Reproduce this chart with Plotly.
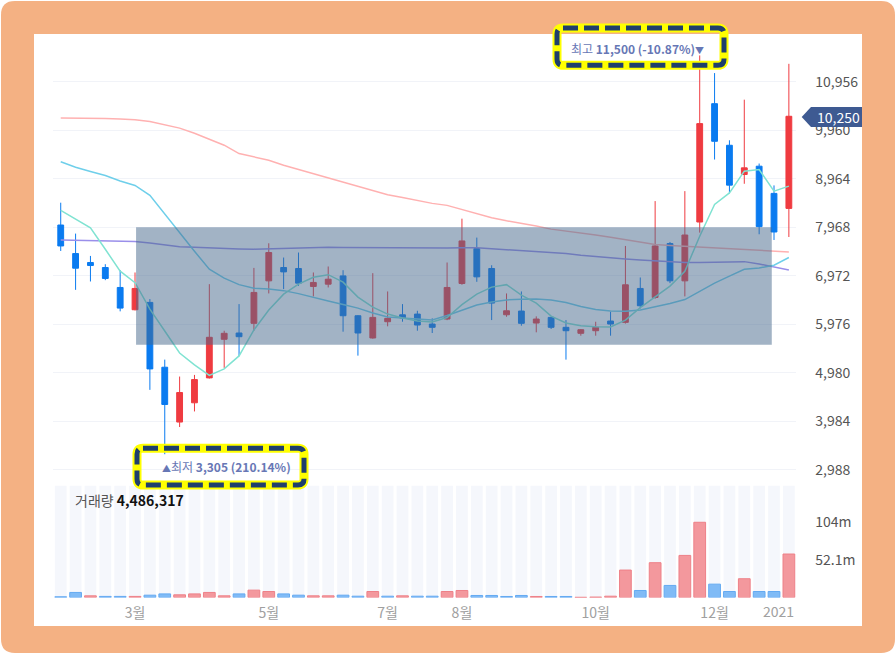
import plotly.graph_objects as go

W, H = 896, 663

# ---------------- data ----------------
WEEKS = [
    "2020-01-27", "2020-02-03", "2020-02-10", "2020-02-17", "2020-02-24",
    "2020-03-02", "2020-03-09", "2020-03-16", "2020-03-23", "2020-03-30",
    "2020-04-06", "2020-04-13", "2020-04-20", "2020-04-27", "2020-05-04",
    "2020-05-11", "2020-05-18", "2020-05-25", "2020-06-01", "2020-06-08",
    "2020-06-15", "2020-06-22", "2020-06-29", "2020-07-06", "2020-07-13",
    "2020-07-20", "2020-07-27", "2020-08-03", "2020-08-10", "2020-08-17",
    "2020-08-24", "2020-08-31", "2020-09-07", "2020-09-14", "2020-09-21",
    "2020-09-28", "2020-10-05", "2020-10-12", "2020-10-19", "2020-10-26",
    "2020-11-02", "2020-11-09", "2020-11-16", "2020-11-23", "2020-11-30",
    "2020-12-07", "2020-12-14", "2020-12-21", "2020-12-28", "2021-01-04",
]

OPEN = [8015, 7429, 7245, 7142, 6732, 6274, 6425, 5093, 3966, 4362,
        4874, 5667, 5796, 5995, 6868, 7142, 7122, 6753, 6800, 6970,
        6151, 5694, 6028, 6170, 6185, 5980, 6083, 6814, 7532, 7122,
        6171, 6247, 6001, 6117, 5913, 5790, 5843, 6042, 6015, 6712,
        6527, 7634, 6868, 8077, 10509, 9654, 9054, 9224, 8665, 8357]
HIGH = [8474, 7839, 7380, 7210, 7087, 7040, 6493, 5249, 4901, 4935,
        6800, 5843, 6390, 7134, 7640, 7347, 7450, 7040, 7163, 7087,
        6165, 7026, 6650, 6390, 6253, 6097, 7245, 8146, 7757, 7189,
        6609, 6650, 6138, 6130, 6062, 5878, 6028, 6233, 7585, 6937,
        8507, 7667, 8712, 11500, 11138, 9757, 10591, 9279, 8829, 11328]
LOW = [7482, 6683, 6855, 6882, 6241, 6260, 4628, 3305, 3864, 4184,
       4860, 5079, 5318, 5843, 6609, 6698, 6766, 6548, 6732, 5823,
       5331, 5680, 5933, 6028, 5843, 5796, 6060, 6787, 6848, 6062,
       6130, 5946, 5810, 5878, 5249, 5741, 5741, 5741, 5990, 6302,
       6500, 6821, 6548, 7859, 9361, 8665, 8863, 7825, 7708, 7769]
CLOSE = [7585, 7128, 7183, 6917, 6308, 6712, 5058, 4327, 4573, 4839,
         5708, 5790, 5720, 6630, 7450, 7052, 6821, 6835, 6902, 6151,
         5796, 6117, 6097, 6105, 5960, 5913, 6732, 7688, 6950, 6411,
         6253, 5995, 6083, 5913, 5843, 5864, 5913, 5980, 6787, 6356,
         7585, 6868, 7810, 10099, 9736, 8835, 9190, 7982, 7872, 10250]
PREV_CLOSE = 7900

MA5 = [8316, 8132, 7958, 7517, 7066, 6831, 6288, 5837, 5386, 5140,
       4925, 5058, 5325, 5858, 6267, 6595, 6800, 6943, 6995, 6841,
       6534, 6329, 6185, 6103, 6042, 6021, 6114, 6380, 6595, 6739,
       6790, 6575, 6411, 6144, 6001, 5946, 5923, 5919, 6062, 6319,
       6534, 6759, 7066, 7784, 8439, 8675, 9122, 9156, 8712, 8814]
MA20 = [9316, 9202, 9115, 9033, 8921, 8829, 8624, 8234, 7845, 7476,
        7107, 6923, 6790, 6718, 6698, 6667, 6605, 6523, 6452, 6380,
        6308, 6206, 6124, 6103, 6083, 6062, 6155, 6267, 6370, 6431,
        6476, 6489, 6493, 6472, 6421, 6339, 6278, 6247, 6243, 6267,
        6329, 6401, 6483, 6657, 6821, 6964, 7107, 7134, 7189, 7347]
MA60 = [7706, 7700, 7695, 7691, 7685, 7675, 7644, 7601, 7570, 7556,
        7542, 7534, 7525, 7519, 7527, 7538, 7546, 7552, 7556, 7554,
        7552, 7548, 7542, 7538, 7534, 7534, 7542, 7548, 7546, 7527,
        7507, 7491, 7466, 7450, 7429, 7394, 7364, 7333, 7317, 7296,
        7278, 7265, 7247, 7245, 7251, 7259, 7263, 7214, 7148, 7091]
MA120 = [10216, 10216, 10216, 10203, 10193, 10179, 10142, 10078, 10007, 9902,
         9785, 9656, 9484, 9412, 9347, 9243, 9156, 9072, 8984, 8892,
         8800, 8718, 8638, 8579, 8519, 8460, 8419, 8337, 8249, 8163,
         8101, 8054, 7993, 7931, 7894, 7857, 7812, 7763, 7714, 7665,
         7613, 7595, 7577, 7558, 7540, 7521, 7503, 7484, 7470, 7462]

VOLUME = [1.0, 7.0, 2.3, 1.5, 1.5, 1.5, 3.2, 5.0, 3.7, 5.0,
          7.0, 2.3, 5.0, 10.2, 8.3, 5.0, 3.2, 2.3, 2.3, 3.2,
          1.8, 8.3, 1.8, 2.3, 1.8, 1.8, 8.3, 9.7, 2.8, 2.8,
          1.4, 2.8, 1.4, 1.4, 1.4, 0.3, 0.6, 1.8, 38.0, 9.7,
          48.2, 16.7, 58.3, 104.2, 18.5, 8.3, 26.0, 8.3, 8.3, 60.2]  # millions

PRICE_TICKS = [2988, 3984, 4980, 5976, 6972, 7968, 8964, 9960, 10956]
VOL_TICKS = [52.1, 104.2]
VOL_TICK_TEXT = ["52.1m", "104m"]
MONTH_TICKS = ["2020-03-02", "2020-05-04", "2020-06-29", "2020-08-03", "2020-10-05", "2020-11-30"]
MONTH_TEXT = ["3월", "5월", "7월", "8월", "10월", "12월"]
YEAR_TICK = ("2021-01-04", "2021")

HIGH_LABEL = "최고 <b>11,500 (-10.87%)</b><span style='font-size:9px'>▼</span>"
LOW_LABEL = "<span style='font-size:9px'>▲</span>최저 <b>3,305 (210.14%)</b>"
LAST_PRICE = "10,250"
VOL_LABEL = "<span style='color:#555555'>거래량</span> <b>4,486,317</b>"

# range box (highlighted trading range)
BOX_X = (5.07, 47.85)
BOX_Y = (5556, 7968)

# ---------------- styling ----------------
FONT = "Noto Sans CJK KR"
RED, BLUE = "#EF3B40", "#0A7BF0"
VRED, VBLUE = "#F3989D", "#80BBF6"
VRED_L, VBLUE_L = "#EE8088", "#64AAF2"
ORANGE = "#F4B183"
NAVY = "#1F3F6C"


def px(x):
    return x / W


def py(y):
    return 1 - y / H


def rrect(x0, y0, x1, y1, r):
    """rounded rectangle path in paper coords from pixel coords"""
    pts = [
        f"M {px(x0 + r)},{py(y0)}",
        f"L {px(x1 - r)},{py(y0)}",
        f"Q {px(x1)},{py(y0)} {px(x1)},{py(y0 + r)}",
        f"L {px(x1)},{py(y1 - r)}",
        f"Q {px(x1)},{py(y1)} {px(x1 - r)},{py(y1)}",
        f"L {px(x0 + r)},{py(y1)}",
        f"Q {px(x0)},{py(y1)} {px(x0)},{py(y1 - r)}",
        f"L {px(x0)},{py(y0 + r)}",
        f"Q {px(x0)},{py(y0)} {px(x0 + r)},{py(y0)}",
        "Z",
    ]
    return " ".join(pts)


fig = go.Figure()

# volume background stripes
VOL_TOP = 155.1
fig.add_trace(go.Bar(x=WEEKS, y=[VOL_TOP] * len(WEEKS), marker_color="#F5F7FC",
                     marker_line_width=0, width=0.79, xaxis="x2", yaxis="y2",
                     hoverinfo="skip", showlegend=False))

prev = [PREV_CLOSE] + CLOSE[:-1]
vcol = [VRED if c > p else VBLUE for c, p in zip(CLOSE, prev)]
vline = [VRED_L if c > p else VBLUE_L for c, p in zip(CLOSE, prev)]
fig.add_trace(go.Bar(x=WEEKS, y=VOLUME, marker_color=vcol,
                     marker_line_color=vline, marker_line_width=1, width=0.79,
                     xaxis="x2", yaxis="y2", showlegend=False))

fig.add_trace(go.Candlestick(
    x=WEEKS, open=OPEN, high=HIGH, low=LOW, close=CLOSE,
    increasing=dict(line=dict(color=RED, width=1), fillcolor=RED),
    decreasing=dict(line=dict(color=BLUE, width=1), fillcolor=BLUE),
    whiskerwidth=0, xaxis="x", yaxis="y", showlegend=False))

for vals, col in [(MA120, "#FFB1B1"), (MA60, "#9A8FEA"), (MA20, "#6FCFEA"), (MA5, "#80E3D2")]:
    fig.add_trace(go.Scatter(x=WEEKS, y=vals, mode="lines",
                             line=dict(color=col, width=1.5),
                             xaxis="x", yaxis="y", showlegend=False, hoverinfo="skip"))

shapes = [
    dict(type="path", xref="paper", yref="paper", path=rrect(1, 1, 895, 655, 14),
         fillcolor=ORANGE, line_width=0, layer="below"),
    dict(type="rect", xref="paper", yref="paper", x0=px(34), x1=px(862), y0=py(628), y1=py(34),
         fillcolor="white", line_width=0, layer="below"),
    dict(type="rect", xref="x", yref="y", x0=BOX_X[0], x1=BOX_X[1], y0=BOX_Y[0], y1=BOX_Y[1],
         fillcolor="rgba(69,103,139,0.5)", line_width=0, layer="above"),
]
for (x0, y0, x1, y1) in [(557, 28, 724, 65.5), (137, 449.5, 304, 486.5)]:
    shapes.append(dict(type="path", xref="paper", yref="paper", path=rrect(x0, y0, x1, y1, 6),
                       line=dict(color="#FFFF00", width=9), layer="above"))
    shapes.append(dict(type="path", xref="paper", yref="paper", path=rrect(x0, y0, x1, y1, 6),
                       line=dict(color=NAVY, width=5, dash="15px,6px"), layer="above"))
# last price tag
shapes.append(dict(type="path", xref="paper", yref="paper",
                   path=f"M {px(801.7)},{py(117.3)} L {px(811)},{py(107.3)} L {px(862)},{py(107.3)} "
                        f"L {px(862)},{py(127.3)} L {px(811)},{py(127.3)} Z",
                   fillcolor="#3E5A92", line_width=0, layer="above"))

annotations = [
    dict(xref="paper", yref="paper", x=px(637.5), y=py(48.5), text=HIGH_LABEL, showarrow=False,
         font=dict(family=FONT, size=12, color="#6777B5"), xanchor="center", yanchor="middle"),
    dict(xref="paper", yref="paper", x=px(226.7), y=py(468), text=LOW_LABEL, showarrow=False,
         font=dict(family=FONT, size=12, color="#6777B5"), xanchor="center", yanchor="middle"),
    dict(xref="paper", yref="paper", x=px(838), y=py(117.3), text=LAST_PRICE, showarrow=False,
         font=dict(family=FONT, size=14, color="white"), xanchor="center", yanchor="middle"),
    dict(xref="paper", yref="paper", x=px(73), y=py(502), text=VOL_LABEL, showarrow=False,
         font=dict(family=FONT, size=14, color="#111111"), xanchor="left", yanchor="middle"),
    dict(xref="x2", yref="paper", x=YEAR_TICK[0], y=py(613), text=YEAR_TICK[1], showarrow=False,
         font=dict(family=FONT, size=14, color="#A0A0A0"), xanchor="right", yanchor="middle",
         xshift=7.5),
]

XDOM = [px(53.3), px(796.3)]
fig.update_layout(
    width=W, height=H, margin=dict(l=0, r=0, t=0, b=0),
    paper_bgcolor="white", plot_bgcolor="rgba(0,0,0,0)",
    font=dict(family=FONT),
    barmode="overlay", boxgap=0.44,
    shapes=shapes, annotations=annotations,
    xaxis=dict(domain=XDOM, type="category", range=[-0.5, len(WEEKS) - 0.5],
               showticklabels=False, showgrid=False, zeroline=False, anchor="y",
               rangeslider=dict(visible=False), fixedrange=True),
    yaxis=dict(domain=[py(478), py(40)], range=[2846, 11820], side="right", anchor="x",
               tickvals=PRICE_TICKS, tickformat=",d", showgrid=True, gridcolor="#F1F3F8",
               zeroline=False, ticks="", ticklabelstandoff=18,
               tickfont=dict(family=FONT, size=14, color="#555555")),
    xaxis2=dict(domain=XDOM, type="category", range=[-0.5, len(WEEKS) - 0.5], anchor="y2",
                matches="x", tickmode="array", tickvals=MONTH_TICKS, ticktext=MONTH_TEXT,
                showgrid=False, zeroline=False, ticks="", ticklabelstandoff=6,
                tickfont=dict(family=FONT, size=14, color="#A0A0A0")),
    yaxis2=dict(domain=[py(599.3), py(487)], range=[0, VOL_TOP], side="right", anchor="x2",
                tickvals=VOL_TICKS, ticktext=VOL_TICK_TEXT, showgrid=False, zeroline=False,
                ticks="", ticklabelstandoff=18,
                tickfont=dict(family=FONT, size=14, color="#555555")),
    hovermode=False,
)

fig.write_html("out.html", config={"displayModeBar": False},
               post_script="document.body.style.margin='0';")
